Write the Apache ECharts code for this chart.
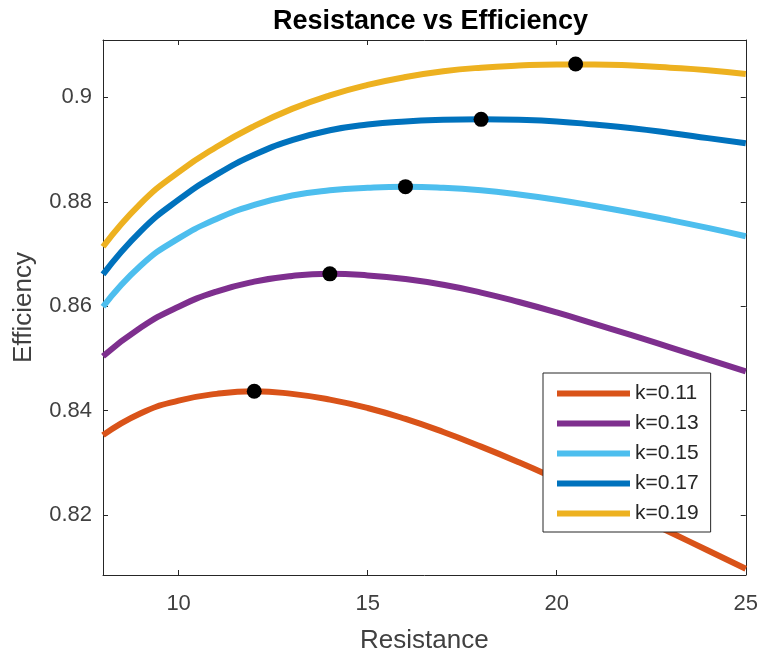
<!DOCTYPE html>
<html>
<head>
<meta charset="utf-8">
<script src="https://cdn.jsdelivr.net/npm/echarts@6/dist/echarts.min.js"></script>
<style>html,body{margin:0;padding:0;background:#fff}#c{width:761px;height:659px}</style>
</head>
<body>
<div id="c"></div>
<script>
// Resistance values (x)
const resistance = [8, 9, 10, 11, 12, 13, 14, 15, 16, 17, 18, 19, 20, 21, 22, 23, 24, 25];
// Efficiency series
const k011 = [0.8353, 0.8395, 0.8419, 0.8432, 0.8437, 0.8432, 0.8421, 0.8405, 0.8384, 0.8359, 0.8331, 0.8301, 0.8269, 0.8236, 0.8202, 0.8167, 0.8132, 0.8097];
const k013 = [0.8504, 0.8559, 0.8599, 0.8628, 0.8647, 0.8658, 0.8662, 0.8659, 0.8652, 0.8641, 0.8626, 0.8608, 0.8588, 0.8566, 0.8544, 0.8521, 0.8498, 0.8475];
const k015 = [0.8599, 0.8678, 0.8730, 0.8767, 0.8794, 0.8812, 0.8822, 0.8827, 0.8829, 0.8827, 0.8822, 0.8814, 0.8804, 0.8792, 0.8779, 0.8765, 0.8750, 0.8734];
const k017 = [0.8661, 0.8744, 0.8804, 0.8852, 0.8890, 0.8918, 0.8937, 0.8948, 0.8954, 0.8957, 0.8958, 0.8957, 0.8954, 0.8948, 0.8941, 0.8932, 0.8922, 0.8912];
const k019 = [0.8714, 0.8797, 0.8857, 0.8905, 0.8945, 0.8978, 0.9004, 0.9024, 0.9039, 0.9050, 0.9057, 0.9061, 0.9063, 0.9063, 0.9061, 0.9057, 0.9052, 0.9045];
// Peak markers
const peakX = [12, 14, 16, 18, 20.5];
const peakY = [0.8437, 0.8662, 0.8829, 0.8958, 0.9064];
// Labels / ticks
const seriesNames = ['k=0.11', 'k=0.13', 'k=0.15', 'k=0.17', 'k=0.19'];
const xTicks = [10, 15, 20, 25];
const yTicks = [0.82, 0.84, 0.86, 0.88, 0.9];

const colors = ['#D95319', '#7E2F8E', '#4DBEEE', '#0072BD', '#EDB120'];
const allSeries = [k011, k013, k015, k017, k019];
const FONT = 'Liberation Sans, Arial, sans-serif';
const AX = '#262626';
const TXT = '#404040';

const chart = echarts.init(document.getElementById('c'));
const lineSeries = allSeries.map((vals, i) => ({
  name: seriesNames[i],
  type: 'line',
  data: resistance.map((x, j) => [x, vals[j]]),
  smooth: 0.5,
  showSymbol: false,
  symbol: 'none',
  lineStyle: { width: 6, color: colors[i] },
  itemStyle: { color: colors[i] },
  emphasis: { disabled: true },
  z: 2
}));
const peakSeries = {
  name: 'peaks',
  type: 'scatter',
  data: peakX.map((x, i) => [x, peakY[i]]),
  symbol: 'circle',
  symbolSize: 15,
  itemStyle: { color: '#000', opacity: 1 },
  emphasis: { disabled: true },
  z: 5
};

const xCommon = { type: 'value', min: 8, max: 25, splitLine: { show: false } };
const yCommon = { type: 'value', min: 0.8085, max: 0.911, splitLine: { show: false } };

chart.setOption({
  animation: false,
  backgroundColor: '#fff',
  textStyle: { fontFamily: FONT },
  title: {
    text: 'Resistance vs Efficiency',
    left: 425.5,
    textAlign: 'center',
    top: 3,
    textStyle: { fontFamily: FONT, fontWeight: 'bold', fontSize: 27, color: '#000' }
  },
  grid: { left: 103, right: 13, top: 40, bottom: 82 },
  legend: {
    data: seriesNames,
    orient: 'vertical',
    left: 543,
    top: 373,
    icon: 'rect',
    itemWidth: 73,
    itemHeight: 6,
    itemGap: 9,
    itemTextGap: 7,
    padding: [10, 12, 8, 14],
    borderColor: AX,
    borderWidth: 1,
    backgroundColor: '#fff',
    textStyle: { fontFamily: FONT, fontSize: 21, color: '#262626' }
  },
  xAxis: [
    Object.assign({}, xCommon, {
      position: 'bottom',
      name: 'Resistance',
      nameLocation: 'middle',
      nameGap: 53,
      nameTextStyle: { fontFamily: FONT, fontSize: 26, color: TXT },
      axisLine: { show: true, lineStyle: { color: AX, width: 1 } },
      axisTick: { show: true, inside: true, length: 5, customValues: xTicks, lineStyle: { color: AX } },
      axisLabel: { show: true, customValues: xTicks, fontFamily: FONT, fontSize: 22, color: TXT, margin: 18 }
    }),
    Object.assign({}, xCommon, {
      position: 'top',
      axisLine: { show: true, lineStyle: { color: AX, width: 1 } },
      axisTick: { show: true, inside: true, length: 5, customValues: xTicks, lineStyle: { color: AX } },
      axisLabel: { show: false }
    })
  ],
  yAxis: [
    Object.assign({}, yCommon, {
      position: 'left',
      name: 'Efficiency',
      nameLocation: 'middle',
      nameGap: 66,
      nameTextStyle: { fontFamily: FONT, fontSize: 26, color: TXT },
      axisLine: { show: true, lineStyle: { color: AX, width: 1 } },
      axisTick: { show: true, inside: true, length: 5, customValues: yTicks, lineStyle: { color: AX } },
      axisLabel: { show: true, customValues: yTicks, fontFamily: FONT, fontSize: 22, color: TXT, margin: 11,
        formatter: v => String(+v.toFixed(2)) }
    }),
    Object.assign({}, yCommon, {
      position: 'right',
      axisLine: { show: true, lineStyle: { color: AX, width: 1 } },
      axisTick: { show: true, inside: true, length: 5, customValues: yTicks, lineStyle: { color: AX } },
      axisLabel: { show: false }
    })
  ],
  series: lineSeries.concat([peakSeries])
});
</script>
</body>
</html>
